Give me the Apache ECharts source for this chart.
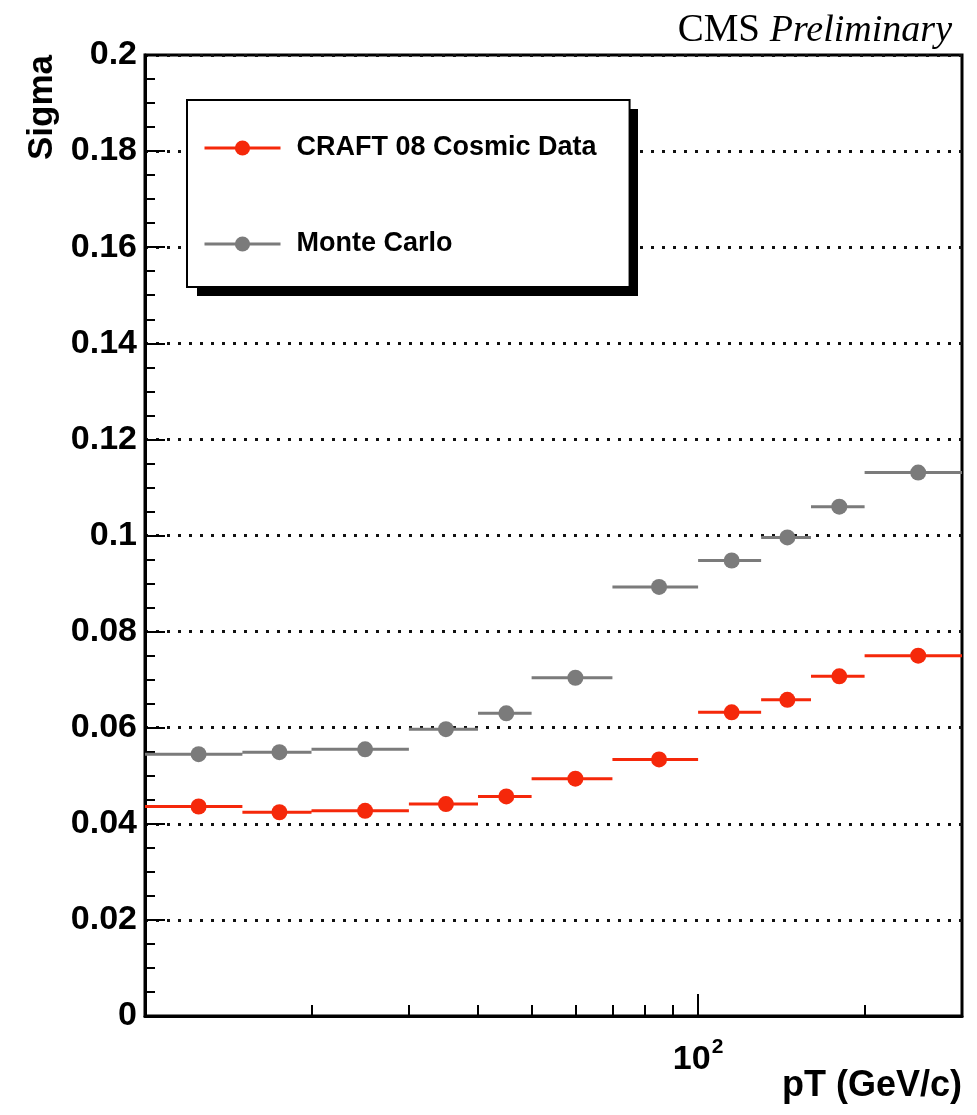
<!DOCTYPE html>
<html>
<head>
<meta charset="utf-8">
<title>Sigma vs pT</title>
<script src="https://cdn.jsdelivr.net/npm/echarts@6/dist/echarts.min.js"></script>
<style>
html, body { margin: 0; padding: 0; background: #fff; }
#chart { width: 977px; height: 1115px; }
</style>
</head>
<body>
<div id="chart"></div>
<script>
// pT bins (GeV/c)
var binLow    = [10, 15, 20, 30, 40, 50, 70, 100, 130, 160, 200];
var binHigh   = [15, 20, 30, 40, 50, 70, 100, 130, 160, 200, 300];
var binCenter = [12.5, 17.5, 25, 35, 45, 60, 85, 115, 145, 180, 250];

// sigma per bin
var craftSigma = [0.0436, 0.0424, 0.0427, 0.0441, 0.0457, 0.0494, 0.0534, 0.0632, 0.0658, 0.0707, 0.0750];
var mcSigma    = [0.0545, 0.0549, 0.0555, 0.0597, 0.0630, 0.0704, 0.0893, 0.0948, 0.0996, 0.1060, 0.1131];

// axis ticks
var xMinorTicks = [20, 30, 40, 50, 60, 70, 80, 90, 200];
var xMajorTicks = [100];

var font = 'Liberation Sans';

// each bin: low edge, center (marker), high edge, then a gap
function binData(values) {
    var out = [];
    for (var i = 0; i < values.length; i++) {
        out.push([binLow[i], values[i]]);
        out.push([binCenter[i], values[i]]);
        out.push([binHigh[i], values[i]]);
        out.push([binHigh[i], null]);
    }
    return out;
}

function binSeries(name, color, values) {
    return {
        name: name,
        type: 'line',
        data: binData(values),
        color: color,
        connectNulls: false,
        symbol: 'circle',
        symbolSize: function (val, params) {
            return params.dataIndex % 4 === 1 ? 16 : 0;
        },
        lineStyle: { color: color, width: 3 },
        itemStyle: { color: color },
        emphasis: { disabled: true }
    };
}

var myChart = echarts.init(document.getElementById('chart'));

var option = {
    animation: false,
    backgroundColor: '#fff',
    title: {
        right: 20,
        top: 3,
        text: '{a|CMS }{b|Preliminary}',
        textStyle: {
            fontWeight: 'normal',
            rich: {
                a: { fontFamily: 'Liberation Serif', fontWeight: 'normal', fontSize: 39, color: '#000', lineHeight: 46 },
                b: { fontFamily: 'Liberation Serif', fontWeight: 'normal', fontStyle: 'italic', fontSize: 38, color: '#000', lineHeight: 46 }
            }
        }
    },
    legend: {
        orient: 'vertical',
        left: 187,
        top: 100,
        z: 5,
        padding: [33, 33, 28, 16],
        itemWidth: 76,
        itemHeight: 19,
        itemGap: 66,
        selectedMode: false,
        backgroundColor: '#fff',
        borderColor: '#000',
        borderWidth: 2,
        lineStyle: { width: 3 },
        textStyle: {
            fontFamily: font,
            fontWeight: 'bold',
            fontSize: 27,
            color: '#000',
            lineHeight: 30,
            padding: [0, 0, 0, 11]
        },
        data: ['CRAFT 08 Cosmic Data', 'Monte Carlo']
    },
    grid: {
        left: 145,
        right: 15,
        top: 55,
        bottom: 99,
        show: true,
        borderColor: '#000',
        borderWidth: 3,
        backgroundColor: 'transparent'
    },
    xAxis: [{
        type: 'log',
        logBase: 10,
        min: 10,
        max: 300,
        position: 'bottom',
        axisLine: { onZero: false, lineStyle: { color: '#000', width: 3 } },
        axisTick: { show: true, inside: true, length: 11, customValues: xMinorTicks, lineStyle: { color: '#000', width: 2 } },
        axisLabel: { show: false },
        splitLine: { show: false }
    }, {
        type: 'log',
        logBase: 10,
        min: 10,
        max: 300,
        position: 'bottom',
        axisLine: { show: false },
        axisTick: { show: true, inside: true, length: 22, customValues: xMajorTicks, lineStyle: { color: '#000', width: 2 } },
        axisLabel: {
            customValues: xMajorTicks,
            margin: 21,
            formatter: function (v) {
                return '{b|10}{s|' + Math.round(Math.log(v) / Math.LN10) + '}';
            },
            rich: {
                b: { fontFamily: font, fontWeight: 'bold', fontSize: 34, color: '#000', lineHeight: 46 },
                s: { fontFamily: font, fontWeight: 'bold', fontSize: 21, color: '#000', lineHeight: 21, padding: [0, 0, 25, 1] }
            }
        },
        splitLine: { show: false }
    }],
    yAxis: {
        type: 'value',
        min: 0,
        max: 0.2,
        interval: 0.02,
        axisLine: { show: true, onZero: false, lineStyle: { color: '#000', width: 3 } },
        axisTick: { show: true, inside: true, length: 20, lineStyle: { color: '#000', width: 2 } },
        minorTick: { show: true, splitNumber: 4, length: 10, lineStyle: { color: '#000', width: 2 } },
        axisLabel: { color: '#000', fontFamily: font, fontWeight: 'bold', fontSize: 34, margin: 8 },
        splitLine: { show: true, lineStyle: { color: '#111', width: 3, type: [3, 8] } }
    },
    graphic: [{
        // drop shadow behind the legend box
        type: 'rect',
        z: 4,
        shape: { x: 197, y: 109, width: 441, height: 187 },
        style: { fill: '#000' }
    }, {
        type: 'text',
        x: 25,
        y: 55,
        rotation: Math.PI / 2,
        style: {
            text: 'Sigma',
            font: 'bold 35px "Liberation Sans"',
            fill: '#000',
            align: 'right', verticalAlign: 'top',
            textAlign: 'right', textVerticalAlign: 'top'
        }
    }, {
        type: 'text',
        x: 962,
        y: 1086,
        style: {
            text: 'pT (GeV/c)',
            font: 'bold 36px "Liberation Sans"',
            fill: '#000',
            align: 'right', verticalAlign: 'middle',
            textAlign: 'right', textVerticalAlign: 'middle'
        }
    }],
    series: [
        binSeries('CRAFT 08 Cosmic Data', '#f5280a', craftSigma),
        binSeries('Monte Carlo', '#7b7b7b', mcSigma)
    ]
};

myChart.setOption(option);
</script>
</body>
</html>
